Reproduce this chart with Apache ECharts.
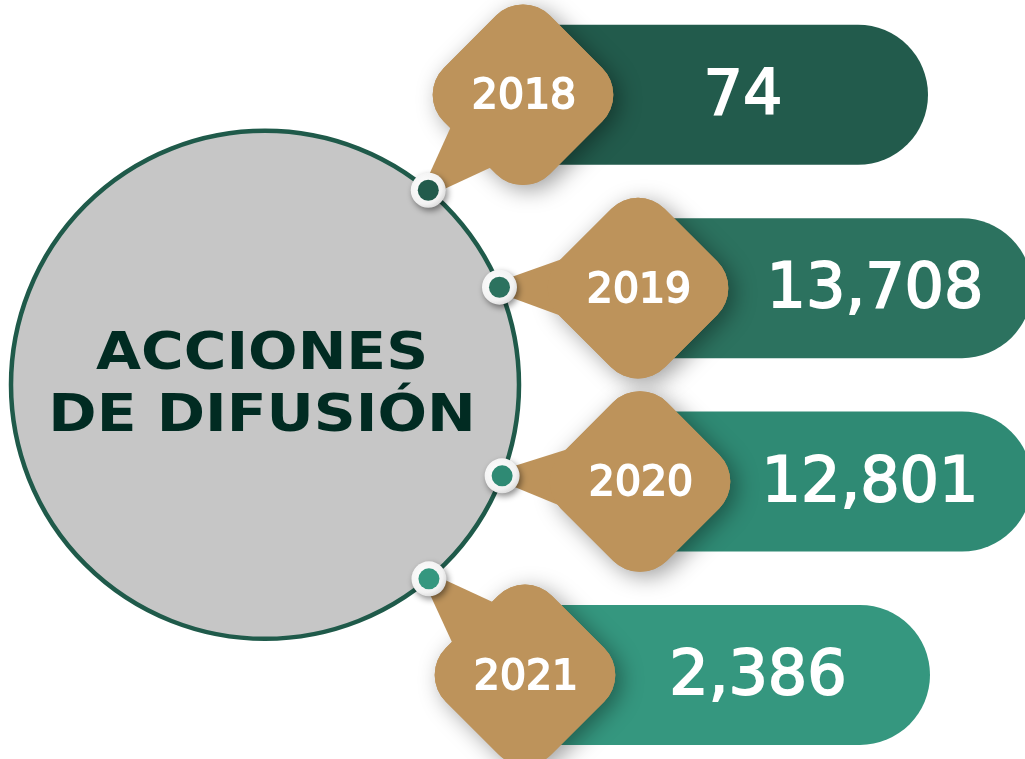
<!DOCTYPE html>
<html>
<head>
<meta charset="utf-8">
<script src="https://cdn.jsdelivr.net/npm/echarts@6/dist/echarts.min.js"></script>
<style>
  html, body { margin: 0; padding: 0; background: #ffffff; }
  #chart { width: 1025px; height: 759px; }
</style>
</head>
<body>
<div id="chart"></div>
<script>
// data
const years = ['2018', '2019', '2020', '2021']
const acciones = [74, 13708, 12801, 2386]
const titulo = 'ACCIONES\nDE DIFUSIÓN'

// layout (x in axis units, rows on the y axis, angles in degrees)
const circleX = 265
const circleR = 254
const tagX = [523, 638, 640, 525]
const pillEnd = [928, 1032, 1032, 930]
const valueX = [743, 875, 870, 758]
const dotAngle = [-50, -22.6, 21, 49.8]
const pillColors = ['#225b4c', '#2c725f', '#2f8a74', '#35977f']
const tan = '#bd935b'
const font = '"DejaVu Sans", sans-serif'

const chart = echarts.init(document.getElementById('chart'))

const circleCenter = (api) => {
  const cx = api.coord([circleX, 0])[0]
  const cy = api.coord([0, 1.5])[1]
  const r = api.size([circleR, 0])[0]
  return { cx, cy, r }
}

const renderCircle = (params, api) => {
  const { cx, cy, r } = circleCenter(api)
  return {
    type: 'group',
    children: [
      {
        type: 'circle',
        shape: { cx, cy, r },
        style: { fill: '#c6c6c6', stroke: '#1f5a4a', lineWidth: 4.5 },
      },
      {
        type: 'text',
        x: cx - 3,
        y: cy + 2,
        scaleX: 1.12,
        style: {
          text: titulo,
          fontFamily: font,
          fontWeight: 'bold',
          fontSize: 52,
          lineHeight: 62,
          fill: '#012b22',
          stroke: '#c6c6c6',
          lineWidth: 1.2,
          align: 'center',
          verticalAlign: 'middle',
        },
      },
    ],
  }
}

const renderTag = (params, api) => {
  const i = api.value(0)
  const c = api.coord([tagX[i], i])
  const band = api.size([0, 1])[1]
  const h = band * 0.724
  const endX = api.coord([pillEnd[i], i])[0]
  const { cx, cy, r } = circleCenter(api)
  const a = (dotAngle[i] * Math.PI) / 180
  const dot = [cx + r * Math.cos(a), cy + r * Math.sin(a)]

  // tail from dot toward the tag centre
  const dx = c[0] - dot[0]
  const dy = c[1] - dot[1]
  const len = Math.sqrt(dx * dx + dy * dy)
  const ux = dx / len
  const uy = dy / len
  const px = -uy
  const py = ux
  const L = len * 0.72
  const w0 = 6
  const w1 = 42
  const tail = [
    [dot[0] + px * w0, dot[1] + py * w0],
    [dot[0] + ux * L + px * w1, dot[1] + uy * L + py * w1],
    [dot[0] + ux * L - px * w1, dot[1] + uy * L - py * w1],
    [dot[0] - px * w0, dot[1] - py * w0],
  ]

  const s = 150
  const diamond = (extra) => Object.assign({
    type: 'rect',
    x: c[0],
    y: c[1],
    rotation: Math.PI / 4,
    shape: { x: -s / 2, y: -s / 2, width: s, height: s, r: 38 },
  }, extra)

  return {
    type: 'group',
    children: [
      {
        type: 'rect',
        z2: 1,
        shape: { x: c[0], y: c[1] - h / 2, width: endX - c[0], height: h, r: [0, h / 2, h / 2, 0] },
        style: { fill: pillColors[i] },
      },
      diamond({
        z2: 2,
        style: {
          fill: tan,
          shadowBlur: 22,
          shadowOffsetX: 6,
          shadowOffsetY: 5,
          shadowColor: 'rgba(0,0,0,0.38)',
        },
      }),
      {
        type: 'polygon',
        z2: 3,
        shape: { points: tail, smooth: 0 },
        style: { fill: tan },
      },
      diamond({ z2: 4, style: { fill: tan } }),
      {
        type: 'circle',
        z2: 5,
        shape: { cx: dot[0], cy: dot[1], r: 17.5 },
        style: {
          fill: new echarts.graphic.RadialGradient(0.4, 0.4, 0.7, [
            { offset: 0, color: '#ffffff' },
            { offset: 0.7, color: '#f2f2f2' },
            { offset: 1, color: '#d0d0d0' },
          ]),
          shadowBlur: 6,
          shadowOffsetX: 2,
          shadowOffsetY: 3,
          shadowColor: 'rgba(0,0,0,0.45)',
        },
      },
      {
        type: 'circle',
        z2: 6,
        shape: { cx: dot[0], cy: dot[1], r: 10.5 },
        style: { fill: pillColors[i] },
      },
      {
        type: 'text',
        z2: 7,
        x: c[0] + 1,
        y: c[1] + 3,
        style: {
          text: years[i],
          fontFamily: font,
          fontSize: 41,
          fill: '#ffffff',
          stroke: '#ffffff',
          lineWidth: 1.8,
          align: 'center',
          verticalAlign: 'middle',
        },
      },
      {
        type: 'text',
        z2: 7,
        x: api.coord([valueX[i], i])[0],
        y: c[1] + 3,
        style: {
          text: api.value(1).toLocaleString('en-US'),
          fontFamily: font,
          fontSize: 62,
          fill: '#ffffff',
          stroke: '#ffffff',
          lineWidth: 1.8,
          align: 'center',
          verticalAlign: 'middle',
        },
      },
    ],
  }
}

chart.setOption({
  animation: false,
  backgroundColor: '#ffffff',
  grid: { left: 0, right: 0, top: 0, bottom: 0 },
  xAxis: { type: 'value', min: 0, max: 1025, show: false },
  // rows 0..3 (one per year), about 193 px apart
  yAxis: { type: 'value', inverse: true, min: -0.49, max: 3.435, show: false },
  series: [
    {
      type: 'custom',
      name: 'circulo',
      z: 1,
      silent: true,
      renderItem: renderCircle,
      data: [[0, 0]],
      encode: { x: 0, y: 1 },
    },
    {
      type: 'custom',
      name: 'Acciones de difusión',
      z: 2,
      renderItem: renderTag,
      dimensions: ['row', 'acciones'],
      encode: { y: 0 },
      data: years.map((y, i) => [i, acciones[i]]),
    },
  ],
})

window.addEventListener('resize', () => {
  chart.resize()
})
</script>
</body>
</html>
